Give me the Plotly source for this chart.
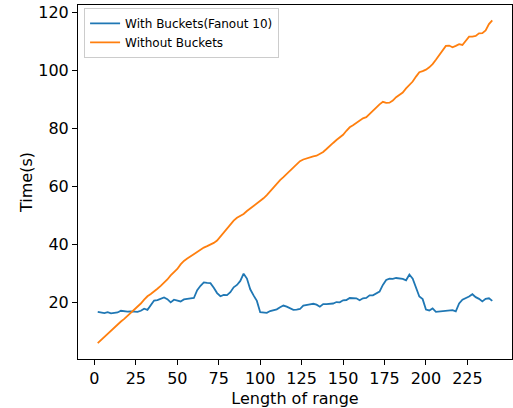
import plotly.graph_objects as go

# Range lengths tested (step of 2)
range_len = list(range(2, 241, 2))

# Query time with buckets (fanout 10), seconds
with_buckets = [
    16.7, 16.6, 16.3, 16.6, 16.2, 16.4, 16.5, 17.1, 16.9, 16.8,
    16.9, 16.9, 16.7, 17.1, 17.8, 17.4, 18.8, 20.6, 20.8, 21.2,
    21.7, 21.1, 20.0, 20.9, 20.7, 20.3, 21.0, 21.3, 21.4, 21.5,
    24.2, 25.7, 26.9, 26.7, 26.6, 25.0, 23.2, 22.1, 22.6, 22.5,
    23.5, 25.2, 26.0, 27.4, 29.9, 28.2, 24.5, 22.4, 20.5, 16.6,
    16.5, 16.4, 17.0, 17.3, 17.6, 18.3, 18.9, 18.5, 17.9, 17.4,
    17.5, 17.7, 18.9, 19.0, 19.3, 19.5, 19.2, 18.5, 19.4, 19.4,
    19.4, 19.6, 20.1, 20.0, 20.7, 20.8, 21.5, 21.4, 21.4, 20.7,
    21.4, 21.5, 22.4, 22.4, 23.1, 23.7, 26.0, 27.7, 28.2, 28.1,
    28.4, 28.2, 28.1, 27.6, 29.6, 28.2, 24.8, 22.0, 21.1, 17.5,
    17.2, 17.9, 16.7, 16.8, 16.9, 17.0, 17.1, 17.3, 16.9, 19.6,
    20.9, 21.4, 22.0, 22.8, 21.8, 21.2, 20.3, 21.2, 21.4, 20.5,
]

# Query time without buckets, seconds
without_buckets = [
    5.9, 7.0, 8.1, 9.2, 10.3, 11.4, 12.5, 13.4, 14.3, 15.3,
    16.3, 17.3, 18.4, 19.6, 20.9, 22.1, 22.9, 23.7, 24.7, 25.7,
    26.7, 27.9, 29.3, 30.5, 31.5, 33.1, 34.3, 35.1, 35.9, 36.7,
    37.4, 38.1, 38.9, 39.4, 39.9, 40.5, 41.3, 42.7, 44.3, 45.6,
    46.9, 48.2, 49.2, 49.8, 50.5, 51.5, 52.4, 53.1, 53.9, 55.0,
    55.9, 57.0, 58.3, 59.7, 61.0, 62.2, 63.2, 64.3, 65.5, 66.6,
    67.8, 68.7, 69.3, 69.7, 70.0, 70.4, 70.6, 71.2, 71.9, 72.9,
    74.1, 75.0, 76.0, 76.9, 77.8, 79.2, 80.4, 81.1, 81.9, 82.9,
    83.5, 83.9, 85.0, 86.3, 87.2, 88.3, 89.2, 88.8, 88.9, 89.6,
    90.8, 91.7, 92.4, 93.8, 95.1, 96.2, 97.9, 99.4, 99.8, 100.3,
    101.1, 102.2, 103.7, 105.4, 107.2, 108.5, 108.6, 108.0, 108.5, 109.1,
    108.8, 110.4, 111.7, 111.7, 111.9, 112.8, 112.9, 113.8, 116.0, 117.3,
]

x_ticks = [0, 25, 50, 75, 100, 125, 150, 175, 200, 225]
y_ticks = [20, 40, 60, 80, 100, 120]

fig = go.Figure()
fig.add_trace(go.Scatter(
    x=range_len, y=with_buckets, mode="lines",
    name="With Buckets(Fanout 10)",
    line=dict(color="#1f77b4", width=1.8),
))
fig.add_trace(go.Scatter(
    x=range_len, y=without_buckets, mode="lines",
    name="Without Buckets",
    line=dict(color="#ff7f0e", width=1.8),
))

axis_common = dict(
    showgrid=False, zeroline=False,
    showline=True, linecolor="black", linewidth=1, mirror=True,
    ticks="outside", ticklen=5, tickwidth=1, tickcolor="black",
    tickfont=dict(family="DejaVu Sans", size=16, color="black"),
)

fig.update_layout(
    width=513, height=408,
    margin=dict(l=78, r=1, t=5, b=49),
    paper_bgcolor="white", plot_bgcolor="white",
    font=dict(family="DejaVu Sans", color="black"),
    showlegend=True,
    legend=dict(
        x=0.014, y=0.992, xanchor="left", yanchor="top",
        bgcolor="rgba(255,255,255,0.8)",
        bordercolor="#cccccc", borderwidth=1,
        font=dict(family="DejaVu Sans", size=12, color="black"),
        tracegroupgap=0,
    ),
    xaxis=dict(
        range=[-9.9, 251.9],
        tickvals=x_ticks,
        title=dict(text="Length of range", font=dict(size=16), standoff=5),
        **axis_common,
    ),
    yaxis=dict(
        range=[0.45, 122.6],
        tickvals=y_ticks,
        title=dict(text="Time(s)", font=dict(size=16), standoff=1),
        **axis_common,
    ),
)

fig.write_html("out.html")
